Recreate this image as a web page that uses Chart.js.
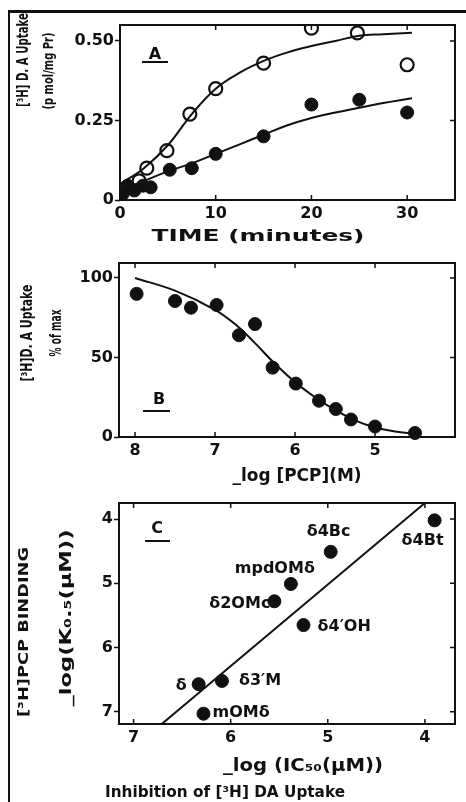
<!DOCTYPE html>
<html>
<head>
<meta charset="utf-8">
<script src="https://cdn.jsdelivr.net/npm/chart.js@4.4.0/dist/chart.umd.min.js"></script>
<style>
  html, body { margin: 0; padding: 0; background: #fff; overflow: hidden; }
  #wrap { position: relative; width: 466px; height: 802px; }
  #frame { position: absolute; left: 8px; top: 10px; width: 470px; height: 800px;
           border-top: 3px solid #111; border-left: 2px solid #111; }
  canvas { position: absolute; left: 0; }
</style>
</head>
<body>
<div id="wrap">
  <div id="frame"></div>
  <canvas id="cA" width="466" height="250" style="top:0"></canvas>
  <canvas id="cB" width="466" height="240" style="top:250px"></canvas>
  <canvas id="cC" width="466" height="312" style="top:490px"></canvas>
</div>
<script>
// ---- Panel A: [3H]DA uptake vs time ----
const timeOpen     = [0.5, 2.0, 2.8, 4.9, 7.3, 10, 15, 20, 24.8, 30];
const uptakeOpen   = [0.035, 0.06, 0.10, 0.155, 0.27, 0.35, 0.43, 0.54, 0.525, 0.425];
const timeFilled   = [0.3, 0.8, 1.5, 2.4, 3.2, 5.2, 7.5, 10, 15, 20, 25, 30];
const uptakeFilled = [0.02, 0.045, 0.03, 0.045, 0.04, 0.095, 0.10, 0.145, 0.20, 0.30, 0.315, 0.275];
const fitTime      = [0, 2.5, 5, 7.5, 10, 12.5, 15, 17.5, 20, 22.5, 25, 27.5, 30.5];
const fitOpen      = [0.05, 0.10, 0.172, 0.27, 0.35, 0.40, 0.437, 0.464, 0.484, 0.50, 0.516, 0.521, 0.526];
const fitFilled    = [0.03, 0.06, 0.09, 0.115, 0.145, 0.175, 0.205, 0.235, 0.258, 0.275, 0.29, 0.305, 0.32];
const ticksAx = [0, 10, 20, 30];
const ticksAy = [0, 0.25, 0.5];

// ---- Panel B: % of max uptake vs -log[PCP] ----
const pcpLog  = [7.98, 7.5, 7.3, 6.98, 6.7, 6.5, 6.28, 5.99, 5.7, 5.49, 5.3, 5.0, 4.5];
const pctMax  = [90, 85.5, 81.3, 83, 64, 71, 43.6, 33.6, 22.8, 17.6, 11, 6.6, 2.5];
const fitPcp  = [8, 7.5, 7, 6.75, 6.5, 6.25, 6, 5.75, 5.5, 5.25, 5, 4.75, 4.5];
const fitPct  = [100, 92, 80, 71, 59, 46, 34.5, 25, 17, 10.5, 6, 3.5, 2];
const ticksBx = [8, 7, 6, 5];
const ticksBy = [0, 50, 100];

// ---- Panel C: PCP binding vs inhibition of DA uptake ----
const compounds = ['δ4Bt', 'δ4Bc', 'mpdOMδ', 'δ2OMc', 'δ4′OH', 'δ3′M', 'δ', 'mOMδ'];
const ic50Log   = [3.90, 4.97, 5.38, 5.55, 5.25, 6.09, 6.33, 6.28];
const k05Log    = [4.02, 4.51, 5.01, 5.28, 5.65, 6.52, 6.57, 7.03];
const fitIc     = [6.71, 4.0];
const fitK      = [7.19, 3.75];
const ticksCx = [7, 6, 5, 4];
const ticksCy = [4, 5, 6, 7];

const ink = '#111';
const FONT = 'DejaVu Sans';
const pts = (xs, ys) => xs.map((x, i) => ({ x, y: ys[i] }));

// label placement for panel C (offset from the point, alignment)
const labelPos = [
  { dx: -33, dy: 20, align: 'left' },
  { dx: -24, dy: -20, align: 'left' },
  { dx: 24, dy: -15, align: 'right' },
  { dx: -4, dy: 3, align: 'right' },
  { dx: 14, dy: 2, align: 'left' },
  { dx: 17, dy: 0, align: 'left' },
  { dx: -12, dy: 2, align: 'right' },
  { dx: 9, dy: -1, align: 'left' }
];

function txt(ctx, t, top) {
  ctx.save();
  ctx.translate(t.x, t.y - top);
  if (t.rot) ctx.rotate(-Math.PI / 2);
  ctx.font = `bold ${t.size}px "${FONT}"`;
  ctx.fillStyle = ink;
  ctx.textAlign = t.align || 'center';
  ctx.textBaseline = 'middle';
  if (t.w) {
    const m = ctx.measureText(t.s).width;
    ctx.scale(t.w / m, 1);
  }
  ctx.fillText(t.s, 0, 0);
  ctx.restore();
}

const deco = {
  id: 'deco',
  afterDraw(chart, args, o) {
    const { ctx, chartArea: a, scales: { x, y } } = chart;
    ctx.save();
    ctx.strokeStyle = ink;
    ctx.lineWidth = 2;
    ctx.strokeRect(a.left, a.top, a.right - a.left, a.bottom - a.top);
    ctx.lineWidth = 1.5;
    ctx.beginPath();
    x.ticks.forEach(t => {
      const px = x.getPixelForValue(t.value);
      ctx.moveTo(px, a.bottom); ctx.lineTo(px, a.bottom - 5);
      ctx.moveTo(px, a.top); ctx.lineTo(px, a.top + 5);
    });
    y.ticks.forEach(t => {
      const py = y.getPixelForValue(t.value);
      ctx.moveTo(a.right, py); ctx.lineTo(a.right - 5, py);
    });
    ctx.stroke();
    // panel letter underline
    if (o.rule) {
      ctx.lineWidth = 2;
      ctx.beginPath();
      ctx.moveTo(o.rule[0], o.rule[2] - o.top);
      ctx.lineTo(o.rule[1], o.rule[2] - o.top);
      ctx.stroke();
    }
    (o.texts || []).forEach(t => txt(ctx, t, o.top));
    if (o.pointLabels) {
      o.pointLabels.forEach((s, i) => {
        const p = labelPos[i];
        txt(ctx, {
          s, size: 16, align: p.align,
          x: x.getPixelForValue(ic50Log[i]) + p.dx,
          y: y.getPixelForValue(k05Log[i]) + p.dy + o.top
        }, o.top);
      });
    }
    ctx.restore();
  }
};

function axis(opts) {
  const { pos, min, max, ticks, fmt, reverse, size } = opts;
  const isY = pos === 'left';
  return {
    type: 'linear', position: pos, min, max, reverse: !!reverse,
    border: { display: false },
    grid: isY
      ? { display: true, drawOnChartArea: false, drawTicks: true, tickLength: 5, tickWidth: 1.5, tickColor: ink }
      : { display: false, drawTicks: false },
    ticks: {
      color: ink, padding: isY ? 1 : 4,
      font: { family: FONT, size: 16, weight: 'bold' },
      callback: fmt || (v => String(v))
    },
    afterBuildTicks: s => { s.ticks = ticks.map(v => ({ value: v })); },
    afterFit: s => { if (isY) s.width = size; else s.height = size; }
  };
}

function makeChart(id, datasets, scales, deco_opts, padTop) {
  return new Chart(document.getElementById(id), {
    type: 'scatter',
    data: { datasets },
    options: {
      responsive: false,
      animation: false,
      devicePixelRatio: 1,
      layout: { padding: { top: padTop, right: 11, bottom: 0, left: 0 } },
      scales,
      plugins: { legend: { display: false }, tooltip: { enabled: false }, deco: deco_opts }
    },
    plugins: [deco]
  });
}

const curve = (data) => ({
  data, showLine: true, pointRadius: 0, borderColor: ink, borderWidth: 2, tension: 0.4
});
const openDots = (data) => ({
  data, pointRadius: 6.5, pointBackgroundColor: '#fff', pointBorderColor: ink, pointBorderWidth: 2.2
});
const fullDots = (data, clip) => ({
  data, pointRadius: 6.5, pointBackgroundColor: ink, pointBorderColor: ink, pointBorderWidth: 1, clip
});

// Panel A
makeChart('cA', [
  curve(pts(fitTime, fitOpen)),
  curve(pts(fitTime, fitFilled)),
  fullDots(pts(timeFilled, uptakeFilled)),
  openDots(pts(timeOpen, uptakeOpen))
], {
  x: axis({ pos: 'bottom', min: 0, max: 35, ticks: ticksAx, size: 50 }),
  y: axis({ pos: 'left', min: 0, max: 0.55, ticks: ticksAy, size: 120,
            fmt: v => v === 0 ? '0' : v.toFixed(2) })
}, {
  top: 0,
  rule: [142, 168, 62],
  texts: [
    { s: 'A', x: 155, y: 55, size: 16 },
    { s: 'TIME (minutes)', x: 258, y: 237, size: 16, w: 213 },
    { s: '[³H] D. A Uptake', x: 24, y: 60, size: 15, w: 94, rot: true },
    { s: '(p mol/mg Pr)', x: 49, y: 71, size: 14, w: 77, rot: true }
  ]
}, 25);

// Panel B
makeChart('cB', [
  curve(pts(fitPcp, fitPct)),
  fullDots(pts(pcpLog, pctMax), false)
], {
  x: axis({ pos: 'bottom', min: 4.0, max: 8.2, reverse: true, ticks: ticksBx, size: 53 }),
  y: axis({ pos: 'left', min: 0, max: 109.4, ticks: ticksBy, size: 119 })
}, {
  top: 250,
  rule: [143, 170, 411],
  texts: [
    { s: 'B', x: 159, y: 400, size: 16 },
    { s: '_log [PCP](M)', x: 297, y: 477, size: 17, w: 129 },
    { s: '[³H]D. A Uptake', x: 28, y: 333, size: 15, w: 97, rot: true },
    { s: '% of max', x: 57, y: 333, size: 15, w: 47, rot: true }
  ]
}, 13);

// Panel C
makeChart('cC', [
  curve(pts(fitIc, fitK)),
  fullDots(pts(ic50Log, k05Log), false)
], {
  x: axis({ pos: 'bottom', min: 3.69, max: 7.15, reverse: true, ticks: ticksCx, size: 78 }),
  y: axis({ pos: 'left', min: 3.75, max: 7.19, reverse: true, ticks: ticksCy, size: 119 })
}, {
  top: 490,
  rule: [145, 170, 541],
  pointLabels: compounds,
  texts: [
    { s: 'C', x: 157, y: 529, size: 16 },
    { s: '_log (IC₅₀(µM))', x: 303, y: 767, size: 17, w: 160 },
    { s: 'Inhibition of [³H] DA Uptake', x: 225, y: 793, size: 16, w: 240 },
    { s: '[³H]PCP BINDING', x: 24, y: 632, size: 14, w: 170, rot: true },
    { s: '_log(K₀.₅(µM))', x: 67, y: 618, size: 16, w: 177, rot: true }
  ]
}, 13);
</script>
</body>
</html>
